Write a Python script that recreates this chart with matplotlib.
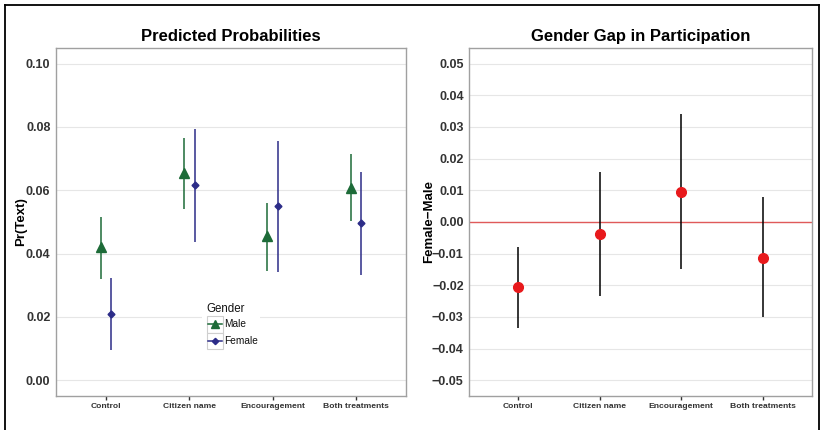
import matplotlib
matplotlib.use("Agg")
import matplotlib.pyplot as plt
from matplotlib.lines import Line2D
from matplotlib.patches import Rectangle
import numpy as np

plt.rcParams['font.family'] = ['Liberation Sans', 'DejaVu Sans']

categories = ["Control", "Citizen name", "Encouragement", "Both treatments"]

male_est = [0.0419, 0.0653, 0.0456, 0.0608]
male_lo = [0.0321, 0.0540, 0.0346, 0.0502]
male_hi = [0.0514, 0.0765, 0.0561, 0.0714]

female_est = [0.0209, 0.0615, 0.0549, 0.0495]
female_lo = [0.0096, 0.0437, 0.0342, 0.0332]
female_hi = [0.0323, 0.0793, 0.0755, 0.0658]

gap_est = [-0.0207, -0.0038, 0.0095, -0.0113]
gap_lo = [-0.0335, -0.0233, -0.0149, -0.0301]
gap_hi = [-0.0081, 0.0156, 0.0340, 0.0078]

left_ticks = [0.00, 0.02, 0.04, 0.06, 0.08, 0.10]
right_ticks = [-0.05, -0.04, -0.03, -0.02, -0.01, 0.00, 0.01, 0.02, 0.03, 0.04, 0.05]

legend_title = "Gender"
legend_labels = ["Male", "Female"]

GREEN = "#1d6b38"
NAVY = "#2c2c88"
RED = "#e8191c"

W, H = 821, 430
fig = plt.figure(figsize=(W / 100, H / 100), dpi=100)

def fx(px):
    return px / W

def fy(py):
    return 1 - py / H

# outer border
for xs, ys in [((fx(5), fx(5)), (0, fy(5))),
               ((fx(5), fx(819)), (fy(5), fy(5))),
               ((fx(819), fx(819)), (0, fy(5)))]:
    fig.add_artist(Line2D(xs, ys, transform=fig.transFigure, color="black", lw=1.3))

def style(ax):
    ax.set_facecolor("white")
    for s in ax.spines.values():
        s.set_color("#a0a0a0")
        s.set_linewidth(1.0)
    ax.grid(axis="y", color="#e6e6e6", lw=0.8)
    ax.set_axisbelow(True)
    ax.tick_params(axis="y", length=0, pad=4, labelsize=9, labelcolor="#333333")
    ax.tick_params(axis="x", length=3, width=1, color="#333333", pad=2,
                   labelsize=6.1, labelcolor="#333333")
    for t in ax.get_yticklabels() + ax.get_xticklabels():
        t.set_fontweight("bold")

x = np.arange(1, len(categories) + 1)
dodge = 0.0625

ax1 = fig.add_axes([fx(56), 34 / H, 350 / W, 348.3 / H])
xm = x - dodge
xf = x + dodge
ax1.vlines(xm, male_lo, male_hi, color=GREEN, lw=1.1)
ax1.vlines(xf, female_lo, female_hi, color=NAVY, lw=1.1)
ax1.plot(xm, male_est, linestyle="none", marker="^", ms=6.5, color=GREEN)
ax1.plot(xf, female_est, linestyle="none", marker="D", ms=3.5, color=NAVY)
ax1.set_xlim(0.4, 4.6)
ax1.set_ylim(-0.005, 0.105)
ax1.set_yticks(left_ticks)
ax1.set_yticklabels([f"{v:.2f}" for v in left_ticks])
ax1.set_xticks(x)
ax1.set_xticklabels(categories)
ax1.set_ylabel("Pr(Text)", fontsize=9.5, fontweight="bold", labelpad=-1)
ax1.set_title("Predicted Probabilities", fontsize=12, fontweight="bold", pad=5)
style(ax1)

# manual legend (ggplot-like), figure pixel coordinates
fig.add_artist(Rectangle((fx(202), fy(348)), fx(260) - fx(202), fy(298) - fy(348),
                         transform=fig.transFigure, facecolor="white", edgecolor="none", zorder=5))
fig.text(fx(206.5), fy(308.5), legend_title, fontsize=8.3, ha="left", va="center",
         color="#111111", zorder=6)
row_y = [324.3, 340.7]
markers = [("^", 5.5, GREEN), ("D", 3.2, NAVY)]
for (mk, ms, col), lab, yy in zip(markers, legend_labels, row_y):
    fig.add_artist(Rectangle((fx(206.5), fy(yy + 8.2)), fx(222.5) - fx(206.5), fy(yy - 8.2) - fy(yy + 8.2),
                             transform=fig.transFigure, facecolor="white",
                             edgecolor="#cfcfcf", lw=0.8, zorder=6))
    fig.add_artist(Line2D([fx(207.5), fx(221.5)], [fy(yy), fy(yy)], transform=fig.transFigure,
                          color=col, lw=1.1, zorder=7))
    fig.add_artist(Line2D([fx(214.5)], [fy(yy)], transform=fig.transFigure, color=col,
                          marker=mk, ms=ms, linestyle="none", zorder=8))
    fig.text(fx(224.5), fy(yy), lab, fontsize=7.3, ha="left", va="center",
             color="#111111", zorder=8)

ax2 = fig.add_axes([fx(469.3), 34 / H, 342.4 / W, 348.3 / H])
ax2.axhline(0, color="#e05a5a", lw=1.0, zorder=1.5)
ax2.vlines(x, gap_lo, gap_hi, color="black", lw=1.1, zorder=2)
ax2.plot(x, gap_est, linestyle="none", marker="o", ms=7, color=RED, zorder=3)
ax2.set_xlim(0.4, 4.6)
ax2.set_ylim(-0.055, 0.055)
ax2.set_yticks(right_ticks)
ax2.set_yticklabels([f"{v:.2f}".replace("-", "\u2212") for v in right_ticks])
ax2.set_xticks(x)
ax2.set_xticklabels(categories)
ax2.set_ylabel("Female\u2212Male", fontsize=9.5, fontweight="bold", labelpad=-2)
ax2.set_title("Gender Gap in Participation", fontsize=12, fontweight="bold", pad=5)
style(ax2)

fig.savefig("out.png", dpi=100, facecolor="white")
